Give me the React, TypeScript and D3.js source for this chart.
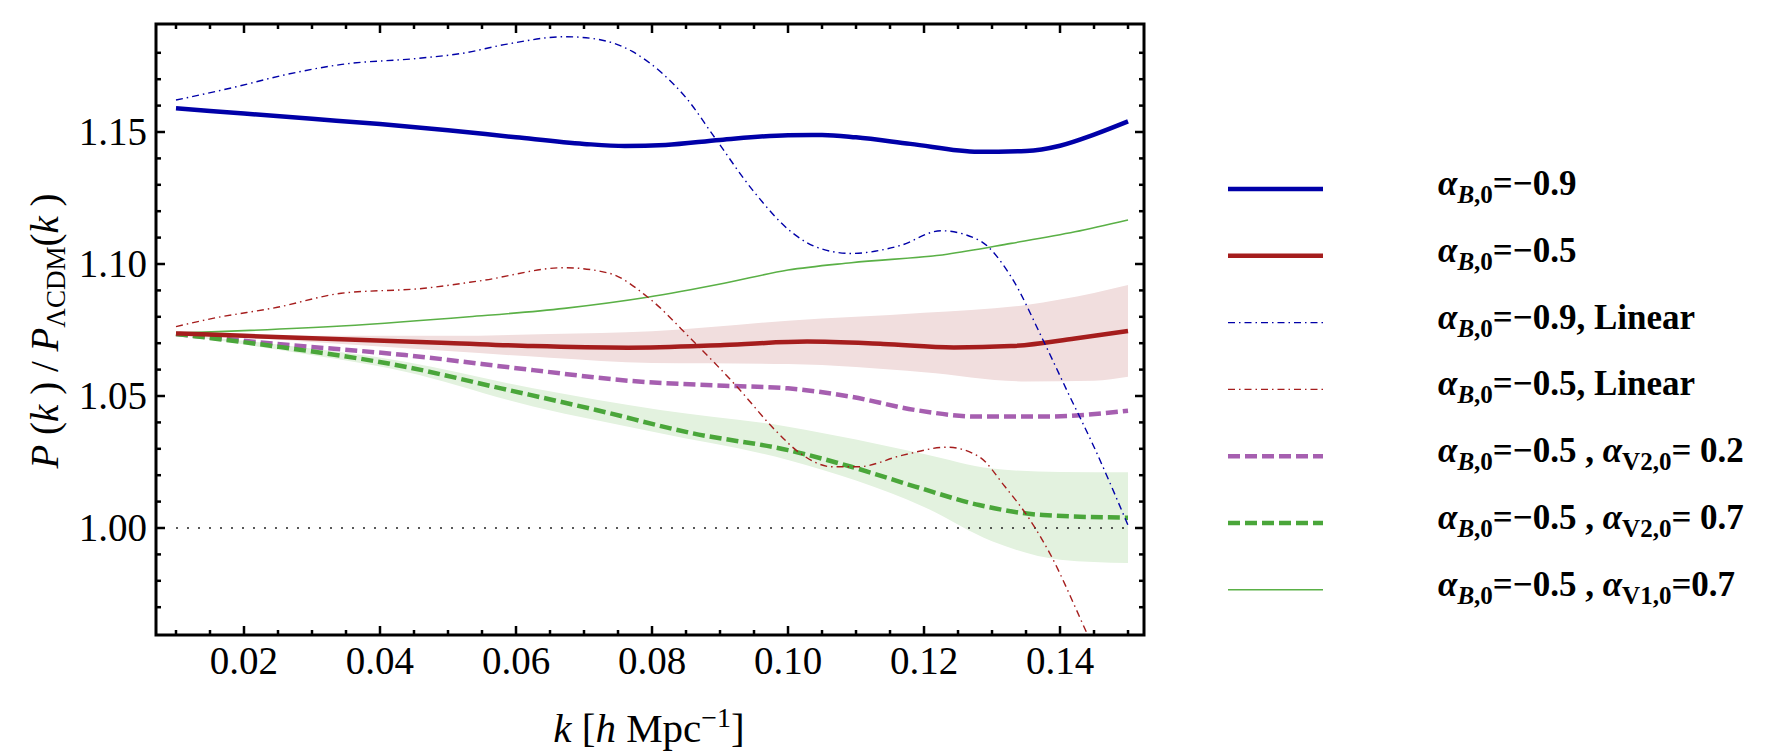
import React from 'react';
import * as d3 from 'd3';

// k [h/Mpc] vs P(k)/P_LCDM(k)
const blueSolid: [number, number][] = [
  [0.01, 1.159], [0.02, 1.157], [0.03, 1.155], [0.04, 1.153], [0.05, 1.1507],
  [0.06, 1.148], [0.07, 1.1455], [0.076, 1.1447], [0.082, 1.1451], [0.09, 1.147],
  [0.1, 1.1488], [0.105, 1.1489], [0.11, 1.148], [0.118, 1.1455], [0.128, 1.1425],
  [0.135, 1.1428], [0.14, 1.1448], [0.145, 1.149], [0.15, 1.154],
];

const redSolid: [number, number][] = [
  [0.01, 1.0737], [0.02, 1.0728], [0.0343, 1.0715], [0.05, 1.0701], [0.0625, 1.0689],
  [0.0765, 1.0683], [0.0906, 1.0693], [0.1028, 1.0706], [0.114, 1.0697], [0.1244, 1.0684],
  [0.1328, 1.0689], [0.1422, 1.0718], [0.15, 1.0746],
];

const blueLinear: [number, number][] = [
  [0.01, 1.1621], [0.0193, 1.1674], [0.0259, 1.1716], [0.0344, 1.1756], [0.0456, 1.1779],
  [0.0521, 1.1798], [0.0587, 1.1833], [0.0672, 1.1861], [0.0718, 1.1852], [0.0771, 1.1805],
  [0.0816, 1.172], [0.085, 1.163], [0.0892, 1.148], [0.0948, 1.128], [0.1007, 1.1117],
  [0.1047, 1.1059], [0.1093, 1.104], [0.1165, 1.107], [0.1225, 1.1126], [0.1281, 1.109],
  [0.1328, 1.0952], [0.1375, 1.0712], [0.1412, 1.0511], [0.145, 1.0307], [0.15, 1.001],
];

const redLinear: [number, number][] = [
  [0.01, 1.0763], [0.0154, 1.0794], [0.0249, 1.0836], [0.0343, 1.0889], [0.0465, 1.0908],
  [0.0549, 1.0937], [0.0671, 1.0986], [0.0737, 1.0965], [0.0793, 1.0876], [0.0859, 1.0712],
  [0.0925, 1.0535], [0.0981, 1.0371], [0.1018, 1.0283], [0.1065, 1.0232], [0.1103, 1.0232],
  [0.1169, 1.0276], [0.1234, 1.0306], [0.1281, 1.027], [0.1319, 1.0157], [0.1356, 1.003],
  [0.1385, 0.9904], [0.1434, 0.9633], [0.1445, 0.957],
];

const purpleDashed: [number, number][] = [
  [0.01, 1.0735], [0.0249, 1.0697], [0.0437, 1.0655], [0.0625, 1.0598], [0.0765, 1.0558],
  [0.0906, 1.0539], [0.1, 1.0529], [0.1093, 1.0497], [0.1187, 1.0447], [0.1281, 1.0422],
  [0.1375, 1.0422], [0.15, 1.0444],
];

const greenDashed: [number, number][] = [
  [0.01, 1.0735], [0.0249, 1.0687], [0.0437, 1.0611], [0.0578, 1.0529], [0.0718, 1.0447],
  [0.0859, 1.0359], [0.1, 1.0295], [0.1093, 1.0232], [0.1187, 1.0157], [0.1281, 1.0087],
  [0.1375, 1.0049], [0.15, 1.0039],
];

const greenThin: [number, number][] = [
  [0.01, 1.0738], [0.0343, 1.0765], [0.0531, 1.08], [0.0671, 1.0832], [0.0793, 1.0874],
  [0.0906, 1.0927], [0.1, 1.0977], [0.1093, 1.1005], [0.1234, 1.1037], [0.1328, 1.1078],
  [0.1422, 1.1122], [0.15, 1.1167],
];

// [k, lower, upper]
const redBand: [number, number, number][] = [
  [0.01, 1.0737, 1.0737], [0.03, 1.0705, 1.0728], [0.05, 1.067, 1.0728], [0.065, 1.0645, 1.0735],
  [0.08, 1.0625, 1.0745], [0.1, 1.0621, 1.0785], [0.12, 1.059, 1.0815], [0.135, 1.0555, 1.0845],
  [0.145, 1.0558, 1.089], [0.15, 1.0573, 1.092],
];

const greenBand: [number, number, number][] = [
  [0.01, 1.0735, 1.0735], [0.025, 1.0675, 1.0695], [0.0437, 1.0592, 1.063], [0.0625, 1.046, 1.0529],
  [0.0812, 1.0359, 1.0447], [0.1, 1.0258, 1.0384], [0.11, 1.018, 1.0335], [0.12, 1.008, 1.028],
  [0.13, 0.995, 1.0225], [0.14, 0.988, 1.0212], [0.15, 0.9867, 1.0211],
];

const xMajor = [0.02, 0.04, 0.06, 0.08, 0.1, 0.12, 0.14];
const xLabels = ['0.02', '0.04', '0.06', '0.08', '0.10', '0.12', '0.14'];
const yMajor = [1.0, 1.05, 1.1, 1.15];
const yLabels = ['1.00', '1.05', '1.10', '1.15'];

const legendEnd = [
  '=\u22120.9', '=\u22120.5', '=\u22120.9, Linear', '=\u22120.5, Linear',
  '=\u22120.5 , ', '=\u22120.5 , ', '=\u22120.5 , ',
];
const legendSecond = [null, null, null, null, ['V2,0', '= 0.2'], ['V2,0', '= 0.7'], ['V1,0', '=0.7']];

const serif = '"Liberation Serif", "Times New Roman", serif';
const BLUE = '#0000a8';
const RED = '#a51d1d';
const PURPLE = '#a65fb0';
const GREEN = '#4aa63a';
const GREEN_THIN = '#5ab046';

const x = d3.scaleLinear().domain([0.00706, 0.15235]).range([156, 1144]);
const y = d3.scaleLinear().domain([0.95947, 1.19091]).range([635, 24]);

const line = d3
  .line<[number, number]>()
  .x((d) => x(d[0]))
  .y((d) => y(d[1]))
  .curve(d3.curveMonotoneX);

const band = d3
  .area<[number, number, number]>()
  .x((d) => x(d[0]))
  .y0((d) => y(d[1]))
  .y1((d) => y(d[2]))
  .curve(d3.curveMonotoneX);

const styles = [
  { color: BLUE, width: 4.5, dash: undefined },
  { color: RED, width: 4.5, dash: undefined },
  { color: BLUE, width: 1.4, dash: '7,4,1.5,4' },
  { color: RED, width: 1.4, dash: '7,4,1.5,4' },
  { color: PURPLE, width: 4.5, dash: '12,5' },
  { color: GREEN, width: 4.5, dash: '12,5' },
  { color: GREEN_THIN, width: 1.6, dash: undefined },
];
const seriesData = [blueSolid, redSolid, blueLinear, redLinear, purpleDashed, greenDashed, greenThin];
const drawOrder = [4, 5, 6, 1, 0, 3, 2];

export default function App() {
  const [x0, x1] = x.range();
  const [y0, y1] = y.range();
  const xMinor = d3.range(0.01, 0.1501, 0.005);
  const yMinor = d3.range(0.97, 1.1801, 0.01);
  const legendY = d3.range(7).map((i) => 189 + i * 66.8);

  return (
    <div style={{ position: 'absolute', left: 0, top: 0 }}>
      <style>{'body{margin:0}'}</style>
      <svg width={1778} height={756} viewBox="0 0 1778 756" style={{ display: 'block', background: '#fff' }}>
        <defs>
          <clipPath id="plot">
            <rect x={x0} y={y1} width={x1 - x0} height={y0 - y1} />
          </clipPath>
        </defs>

        <g clipPath="url(#plot)">
          <path d={band(redBand) || ''} fill="#f1dede" />
          <path d={band(greenBand) || ''} fill="#e3f2df" />
          <line x1={x(0.01)} x2={x(0.15)} y1={y(1)} y2={y(1)} stroke="#222" strokeWidth={1.6} strokeDasharray="2,9" />
          {drawOrder.map((i) => (
            <path
              key={i}
              d={line(seriesData[i]) || ''}
              fill="none"
              stroke={styles[i].color}
              strokeWidth={styles[i].width}
              strokeDasharray={styles[i].dash}
            />
          ))}
        </g>

        {/* ticks on all sides, pointing inward */}
        <g stroke="#000" strokeWidth={2.5}>
          {xMinor.map((k) => {
            const major = xMajor.some((m) => Math.abs(m - k) < 1e-6);
            const len = major ? 9 : 5;
            return (
              <g key={'x' + k}>
                <line x1={x(k)} x2={x(k)} y1={y0} y2={y0 - len} />
                <line x1={x(k)} x2={x(k)} y1={y1} y2={y1 + len} />
              </g>
            );
          })}
          {yMinor.map((v) => {
            const major = yMajor.some((m) => Math.abs(m - v) < 1e-6);
            const len = major ? 9 : 5;
            return (
              <g key={'y' + v}>
                <line x1={x0} x2={x0 + len} y1={y(v)} y2={y(v)} />
                <line x1={x1} x2={x1 - len} y1={y(v)} y2={y(v)} />
              </g>
            );
          })}
        </g>
        <rect x={x0} y={y1} width={x1 - x0} height={y0 - y1} fill="none" stroke="#000" strokeWidth={3} />

        <g fontFamily={serif} fontSize={39} fill="#000">
          {xMajor.map((k, i) => (
            <text key={k} x={x(k)} y={674} textAnchor="middle">{xLabels[i]}</text>
          ))}
          {yMajor.map((v, i) => (
            <text key={v} x={147} y={y(v) + 13} textAnchor="end">{yLabels[i]}</text>
          ))}
        </g>

        {/* axis titles */}
        <text x={649} y={742} textAnchor="middle" fontFamily={serif} fontSize={41}>
          <tspan fontStyle="italic">k</tspan>
          <tspan> [</tspan>
          <tspan fontStyle="italic">h</tspan>
          <tspan> Mpc</tspan>
          <tspan fontSize={28} dy={-15}>{'\u22121'}</tspan>
          <tspan dy={15}>]</tspan>
        </text>
        <g transform="translate(58,331) rotate(-90)">
          <text textAnchor="middle" fontFamily={serif} fontSize={39}>
            <tspan fontStyle="italic">P</tspan>
            <tspan> (</tspan>
            <tspan fontStyle="italic">k</tspan>
            <tspan> ) / </tspan>
            <tspan fontStyle="italic">P</tspan>
            <tspan fontSize={27} dy={7}>ΛCDM</tspan>
            <tspan dy={-7}>(</tspan>
            <tspan fontStyle="italic">k</tspan>
            <tspan> )</tspan>
          </text>
        </g>

        {/* legend */}
        <g>
          {legendY.map((ly, i) => (
            <g key={i}>
              <line
                x1={1228}
                x2={1323}
                y1={ly}
                y2={ly}
                stroke={styles[i].color}
                strokeWidth={styles[i].width}
                strokeDasharray={styles[i].dash}
              />
              <text x={1438} y={ly + 6} fontFamily={serif} fontWeight="bold" fontSize={35}>
                <tspan fontStyle="italic">α</tspan>
                <tspan fontSize={25} dy={8} fontStyle="italic">B</tspan>
                <tspan fontSize={25}>,0</tspan>
                <tspan dy={-8}>{legendEnd[i]}</tspan>
                {legendSecond[i] && (
                  <>
                    <tspan fontStyle="italic">α</tspan>
                    <tspan fontSize={25} dy={8}>{legendSecond[i]![0]}</tspan>
                    <tspan dy={-8}>{legendSecond[i]![1]}</tspan>
                  </>
                )}
              </text>
            </g>
          ))}
        </g>
      </svg>
    </div>
  );
}
